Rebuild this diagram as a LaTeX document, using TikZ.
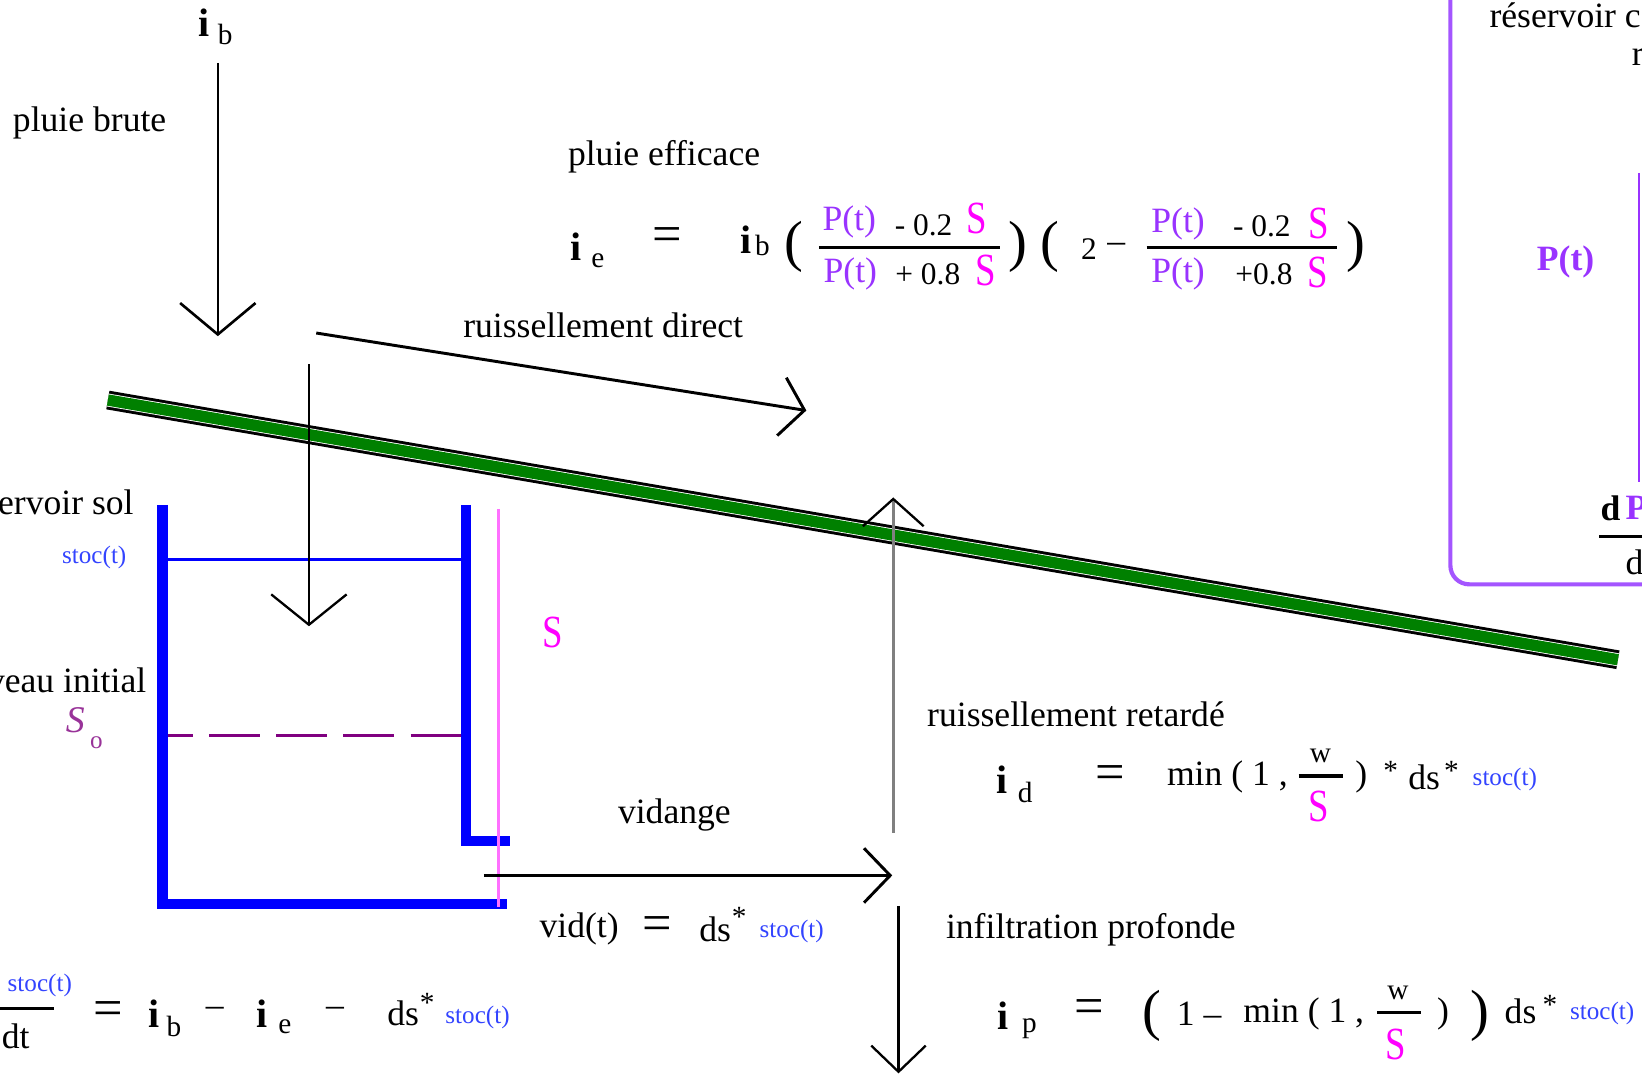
\documentclass[tikz,border=0pt]{standalone}
\usepackage{fontspec}
\setmainfont{Liberation Serif}
\usetikzlibrary{arrows.meta}
\definecolor{resblue}{HTML}{0000FF}
\definecolor{stocblue}{HTML}{3344FF}
\definecolor{magS}{HTML}{FF00FF}
\definecolor{pinkline}{HTML}{FF70FF}
\definecolor{violetP}{HTML}{9933FF}
\definecolor{boxviolet}{HTML}{A455FF}
\definecolor{dashpurple}{HTML}{800080}
\definecolor{sopurple}{HTML}{993399}
\definecolor{soilgreen}{HTML}{008000}
\definecolor{arrowgray}{HTML}{808080}
\begin{document}
\begin{tikzpicture}[x=0.5pt,y=-0.5pt,
  lab/.style={inner sep=0pt, font=\fontsize{17}{20}\selectfont},
  num/.style={inner sep=0pt, font=\fontsize{15}{18}\selectfont},
  bi/.style={inner sep=0pt, font=\fontsize{19}{22}\selectfont\bfseries},
  sb/.style={inner sep=0pt, font=\fontsize{14}{16}\selectfont},
  eqs/.style={inner sep=0pt, font=\fontsize{25}{28}\selectfont},
  bigpar/.style={inner sep=0pt, font=\fontsize{27}{30}\selectfont},
  stoc/.style={inner sep=0pt, text=stocblue, font=\fontsize{12}{14}\selectfont},
  ptv/.style={inner sep=0pt, text=violetP, font=\fontsize{17}{20}\selectfont},
  sS/.style={inner sep=0pt, text=magS, font=\fontsize{22}{24}\selectfont},
  flow/.style={line width=1.25pt},
  fbar/.style={line width=1.5pt},
  wall/.style={draw=resblue, line width=5pt},
]
\clip (0,0) rectangle (1568,1030);
\fill[white] (0,0) rectangle (1568,1030);

% ---------- soil surface band
\coordinate (gl) at (103,382);
\coordinate (gr) at (1545,630);
\draw[black, line width=9pt] (gl) -- (gr);
\draw[white, line width=6.2pt] (gl) -- (gr);
\draw[soilgreen, line width=5.4pt] (gl) -- (gr);

% ---------- soil reservoir
\draw[wall] (155,482) -- (155,863) -- (484,863);
\draw[wall] (445,482) -- (445,803) -- (487,803);
\draw[resblue, line width=1.5pt] (160,534) -- (440,534);
\draw[dashpurple, line width=1.5pt, dash pattern=on 24pt off 8pt, dash phase=12pt] (160,702) -- (445,702);
\draw[pinkline, line width=1.5pt] (476,486) -- (476,866);

% ---------- right box
\draw[boxviolet, line width=2pt, rounded corners=9pt] (1385,-20) -- (1385,558) -- (1620,558);
\draw[violetP, line width=1.3pt] (1565,165) -- (1565,460);

% ---------- arrows
\coordinate (ibtop) at (208,60);
\coordinate (ibend) at (208,321);
\draw[flow, -{Straight Barb[length=15pt,width=36pt]}] (ibtop) -- (ibend);

\coordinate (dirs) at (302,318);
\coordinate (dire) at (770,392);
\draw[flow, line width=1.4pt, -{Straight Barb[length=11pt,width=28pt]}] (dirs) -- (dire);

\coordinate (infs) at (295,348);
\coordinate (infe) at (295,598);
\draw[flow, line width=1.1pt, -{Straight Barb[length=14.5pt,width=36pt]}] (infs) -- (infe);

\coordinate (vids) at (462,836);
\coordinate (vide) at (852,836);
\draw[flow, line width=1.4pt, -{Straight Barb[length=12.5pt,width=26pt]}] (vids) -- (vide);

\coordinate (rets) at (853,795);
\coordinate (rete) at (853,475);
\draw[arrowgray, line width=1.6pt, -{Straight Barb[length=13pt,width=29pt,color=black,line width=1.1pt]}] (rets) -- (rete);

\coordinate (deps) at (858,865);
\coordinate (depe) at (858,1025);
\draw[flow, line width=1.1pt, -{Straight Barb[length=12.5pt,width=26pt]}] (deps) -- (depe);

% ---------- top left
\node[bi] (ibi) at (195,22) {i};
\node[sb] (ibb) at (215,33) {b};
\node[lab, anchor=west] (pbrute) at (12,117) {pluie brute};

% ---------- pluie efficace formula
\node[lab, anchor=west] (peff) at (542,150) {pluie efficace};
\node[bi] (iei) at (550,236) {i};
\node[sb] (iee) at (571,249) {e};
\node[eqs] (ieq) at (637,229) {=};
\node[bi] (ieb1) at (712,229) {i};
\node[sb] (ieb2) at (728,234) {b};
\node[bigpar] (po1) at (758,236) {(};
\node[ptv] (n1p) at (811,212) {P(t)};
\node[num] (n1n) at (882,215) {- 0.2};
\node[sS] (n1s) at (933,209) {\scalebox{0.8}[1]{S}};
\draw[fbar] (782,236) -- (955,236);
\node[ptv] (d1p) at (812,262) {P(t)};
\node[num] (d1n) at (886,262) {+ 0.8};
\node[sS] (d1s) at (941,258) {\scalebox{0.8}[1]{S}};
\node[bigpar] (pc1) at (972,236) {)};
\node[bigpar] (po2) at (1003,236) {(};
\node[num] (two) at (1040,238) {2};
\node[lab] (twom) at (1066,237) {–};
\node[ptv] (n2p) at (1125,214) {P(t)};
\node[num] (n2n) at (1205,216) {- 0.2};
\node[sS] (n2s) at (1259,213) {\scalebox{0.8}[1]{S}};
\draw[fbar] (1095,236) -- (1277,236);
\node[ptv] (d2p) at (1125,262) {P(t)};
\node[num] (d2n) at (1207,262) {+0.8};
\node[sS] (d2s) at (1258,260) {\scalebox{0.8}[1]{S}};
\node[bigpar] (pc2) at (1295,236) {)};

\node[lab] (rdir) at (576,311) {ruissellement direct};

% ---------- reservoir labels
\node[lab, anchor=east] (rsol) at (128,480) {ervoir sol};
\node[stoc] (stoc1) at (90,532) {stoc(t)};
\node[lab, anchor=east] (nini) at (140,650) {veau initial};
\node[inner sep=0pt, text=sopurple, font=\fontsize{18}{20}\selectfont\itshape] (so1) at (72,688) {S};
\node[inner sep=0pt, text=sopurple, font=\fontsize{12}{14}\selectfont] (so2) at (92,709) {o};
\node[sS] (sbig) at (528,604) {\scalebox{0.8}[1]{S}};

% ---------- vidange
\node[lab] (vid) at (644,778) {vidange};
\node[lab] (vidt) at (553,887) {vid(t)};
\node[eqs] (videq) at (628,887) {=};
\node[lab] (vidds) at (683,887) {ds};
\node[sb] (vidst) at (706,876) {*};
\node[stoc] (vidstoc) at (756,889) {stoc(t)};

% ---------- ruissellement retarde
\node[lab, anchor=west] (rret) at (885,682) {ruissellement retardé};
\node[bi] (idi) at (957,745) {i};
\node[sb] (idd) at (979,757) {d};
\node[eqs] (ideq) at (1060,742) {=};
\node[lab] (idmin) at (1172,742) {min ( 1 ,};
\node[sb] (idw) at (1261,722) {w};
\draw[fbar] (1240,741) -- (1282,741);
\node[sS] (idS) at (1259,770) {\scalebox{0.8}[1]{S}};
\node[lab] (idpc) at (1300,742) {)};
\node[sb] (idst1) at (1328,736) {*};
\node[lab] (idds) at (1360,742) {ds};
\node[sb] (idst2) at (1386,736) {*};
\node[stoc] (idstoc) at (1437,744) {stoc(t)};

% ---------- infiltration profonde
\node[lab, anchor=west] (infp) at (903,888) {infiltration profonde};
\node[bi] (ipi) at (958,970) {i};
\node[sb] (ipp) at (983,982) {p};
\node[eqs] (ipeq) at (1040,966) {=};
\node[bigpar] (ippo) at (1100,970) {(};
\node[lab] (ipone) at (1145,968) {1 –};
\node[lab] (ipmin) at (1245,968) {min ( 1 ,};
\node[sb] (ipw) at (1335,948) {w};
\draw[fbar] (1315,967) -- (1357,967);
\node[sS] (ipS) at (1333,997) {\scalebox{0.8}[1]{S}};
\node[lab] (ippc1) at (1378,968) {)};
\node[bigpar] (ippc2) at (1413,970) {)};
\node[lab] (ipds) at (1452,966) {ds};
\node[sb] (ipst) at (1480,960) {*};
\node[stoc] (ipstoc) at (1530,968) {stoc(t)};

% ---------- bottom-left balance
\node[stoc] (blnum) at (38,941) {stoc(t)};
\draw[fbar] (-5,963) -- (52,963);
\node[lab] (bldt) at (15,990) {dt};
\node[eqs] (bleq) at (103,968) {=};
\node[bi] (blib) at (147,968) {i};
\node[sb] (blb) at (166,980) {b};
\node[lab] (blm1) at (205,966) {–};
\node[bi] (blie) at (250,968) {i};
\node[sb] (ble) at (272,980) {e};
\node[lab] (blm2) at (320,966) {–};
\node[lab] (blds) at (385,968) {ds};
\node[sb] (blst) at (408,958) {*};
\node[stoc] (blstoc) at (456,972) {stoc(t)};

% ---------- right box texts
\node[lab, anchor=west] (rc) at (1422,15) {réservoir c};
\node[lab, anchor=west] (rr) at (1558,55) {r};
\node[inner sep=0pt, text=violetP, font=\fontsize{17}{20}\selectfont\bfseries] (pbox) at (1495,250) {P(t)};
\node[inner sep=0pt, font=\fontsize{17}{20}\selectfont\bfseries] (dnum) at (1538,485) {d};
\node[inner sep=0pt, anchor=west, text=violetP, font=\fontsize{17}{20}\selectfont\bfseries] (pnum) at (1552,485) {P};
\draw[fbar] (1527,512) -- (1575,512);
\node[inner sep=0pt, anchor=west, font=\fontsize{17}{20}\selectfont] (dden) at (1552,537) {d};
\end{tikzpicture}
\end{document}
